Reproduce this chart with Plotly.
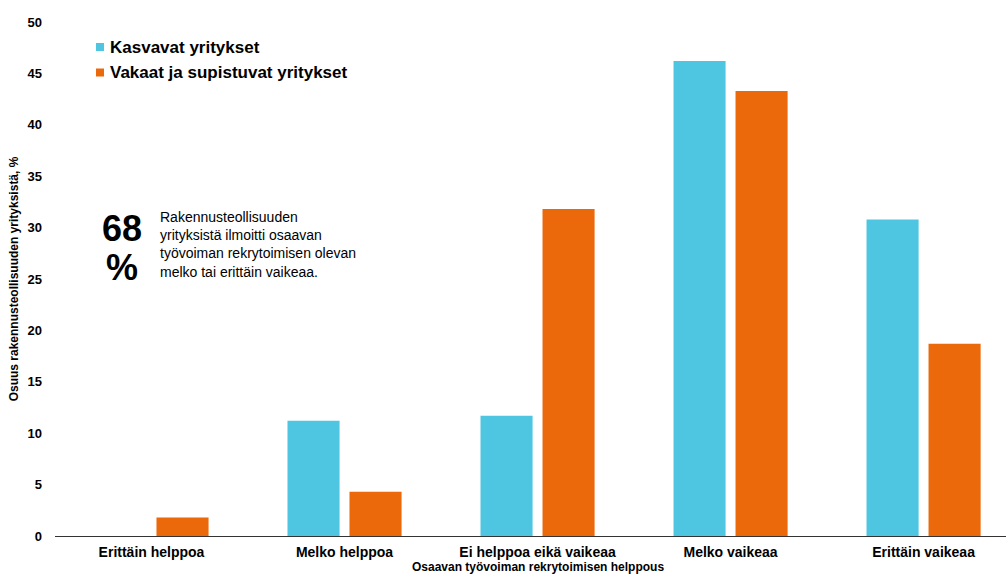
import plotly.graph_objects as go

categories = ["Erittäin helppoa", "Melko helppoa", "Ei helppoa eikä vaikeaa",
              "Melko vaikeaa", "Erittäin vaikeaa"]
kasvavat = [0, 11.2, 11.7, 46.2, 30.8]
vakaat = [1.8, 4.3, 31.8, 43.3, 18.7]
series_names = ["Kasvavat yritykset", "Vakaat ja supistuvat yritykset"]
y_ticks = [0, 5, 10, 15, 20, 25, 30, 35, 40, 45, 50]

CYAN = "#4FC6E1"
ORANGE = "#EB690B"
FONT = "Liberation Sans, Arial, sans-serif"

# plot-area geometry in pixels (used to place paper-referenced items)
PL, PT, PB, W, H = 55, 22, 40, 1006, 576
PW, PH = W - PL, H - PT - PB


def px(x):
    return (x - PL) / PW


def py(y):
    return (H - PB - y) / PH


fig = go.Figure()
fig.add_trace(go.Bar(x=categories, y=kasvavat, name=series_names[0],
                     marker=dict(color=CYAN, line=dict(width=0))))
fig.add_trace(go.Bar(x=categories, y=vakaat, name=series_names[1],
                     marker=dict(color=ORANGE, line=dict(width=0))))

fig.update_layout(
    width=W, height=H,
    margin=dict(l=PL, r=0, t=PT, b=PB),
    plot_bgcolor="white", paper_bgcolor="white",
    barmode="group", bargap=0.3575, bargroupgap=0.16,
    font=dict(family=FONT, color="#000000"),
    showlegend=False,
    xaxis=dict(range=[-0.5, 4.427], showgrid=False, showline=True,
               linecolor="#333333", linewidth=1, ticks="", ticklabelstandoff=3,
               tickfont=dict(family=FONT, size=14, color="#000000", weight="bold")),
    yaxis=dict(range=[0, 50], tickvals=y_ticks, showgrid=False, zeroline=False,
               showline=False, ticks="", ticklabelstandoff=12,
               tickfont=dict(family=FONT, size=13, color="#000000", weight="bold"),
               title=dict(text="Osuus rakennusteollisuuden yrityksistä, %",
                          font=dict(family=FONT, size=12, color="#000000", weight="bold"),
                          standoff=6)),
)

# legend: small square swatches with bold labels
for name, color, ycen in [(series_names[0], CYAN, 47), (series_names[1], ORANGE, 72.5)]:
    fig.add_shape(type="rect", xref="paper", yref="paper",
                  x0=px(96), x1=px(104), y0=py(ycen + 4), y1=py(ycen - 4),
                  fillcolor=color, line=dict(width=0))
    fig.add_annotation(x=px(108), y=py(ycen), xref="paper", yref="paper",
                       xanchor="left", yanchor="middle", showarrow=False, text=name,
                       font=dict(family=FONT, size=17, color="#000000", weight="bold"))

# x-axis title sits just below the tick labels
fig.add_annotation(x=2, y=py(567), xref="x", yref="paper",
                   text="Osaavan työvoiman rekrytoimisen helppous",
                   showarrow=False, yanchor="middle",
                   font=dict(family=FONT, size=12, color="#000000", weight="bold"))

# highlighted share
fig.add_annotation(x=px(122), y=py(228), xref="paper", yref="paper", xanchor="center",
                   yanchor="middle", text="68", showarrow=False,
                   font=dict(family=FONT, size=36, color="#000000", weight="bold"))
fig.add_annotation(x=px(122), y=py(267), xref="paper", yref="paper", xanchor="center",
                   yanchor="middle", text="%", showarrow=False,
                   font=dict(family=FONT, size=36, color="#000000", weight="bold"))
fig.add_annotation(x=px(158), y=py(244), xref="paper", yref="paper", xanchor="left",
                   yanchor="middle", showarrow=False, align="left",
                   text="Rakennusteollisuuden<br>yrityksistä ilmoitti osaavan<br>"
                        "työvoiman rekrytoimisen olevan<br>melko tai erittäin vaikeaa.",
                   font=dict(family=FONT, size=14, color="#000000"))

fig.write_html("out.html")
